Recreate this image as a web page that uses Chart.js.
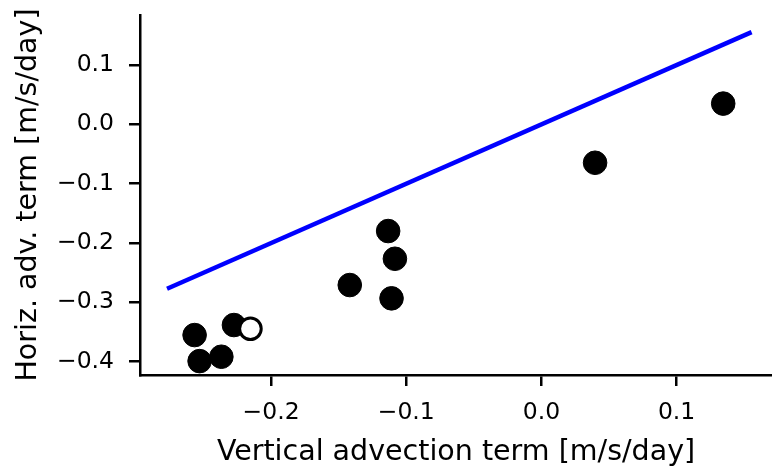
<!DOCTYPE html>
<html><head><meta charset="utf-8">
<script src="https://cdn.jsdelivr.net/npm/chart.js@4"></script>
<style>html,body{margin:0;padding:0;background:#fff;overflow:hidden}</style>
</head><body>
<canvas id="c" width="772" height="470"></canvas>
<script>
// Filled (black) points
const filledX = [0.1345, 0.0397, -0.1134, -0.1084, -0.1418, -0.1109, -0.2566, -0.2529, -0.2368, -0.2275];
const filledY = [0.0350, -0.0647, -0.1798, -0.2265, -0.2708, -0.2932, -0.3551, -0.3990, -0.3916, -0.3382];
// Open (white) point
const openX = [-0.2153];
const openY = [-0.3445];
// 1:1 line
const lineX = [-0.277, 0.1555];
const lineY = [-0.277, 0.1555];
// Axes
const xTicks = [-0.2, -0.1, 0.0, 0.1];
const yTicks = [-0.4, -0.3, -0.2, -0.1, 0.0, 0.1];
const xLimits = [-0.297, 0.1706];
const yLimits = [-0.4224, 0.1843];
const xTitle = 'Vertical advection term [m/s/day]';
const yTitle = 'Horiz. adv. term [m/s/day]';

const zip = (xs, ys) => xs.map((x, i) => ({x: x, y: ys[i]}));
const fmt = v => (v < -1e-9 ? '\u2212' : '') + Math.abs(v).toFixed(1);
const FONT = 'DejaVu Sans';
const noPad = s => { s.paddingTop = 0; s.paddingBottom = 0; s.paddingLeft = 0; s.paddingRight = 0; };

new Chart(document.getElementById('c'), {
  type: 'scatter',
  data: {
    datasets: [
      {data: zip(openX, openY), pointRadius: 10.8, pointBorderWidth: 3,
       backgroundColor: '#ffffff', borderColor: '#000000', order: 0},
      {data: zip(filledX, filledY), pointRadius: 11.8, pointBorderWidth: 1,
       backgroundColor: '#000000', borderColor: '#000000', order: 1},
      {type: 'line', data: zip(lineX, lineY), borderColor: '#0000ff', borderWidth: 4.5,
       pointRadius: 0, showLine: true, fill: false, borderCapStyle: 'butt', order: 2}
    ]
  },
  options: {
    responsive: false, animation: false, devicePixelRatio: 1, events: [],
    layout: {autoPadding: false, padding: {top: 15, right: 0, bottom: 0, left: 0}},
    plugins: {legend: {display: false}, tooltip: {enabled: false}},
    scales: {
      x: {
        type: 'linear', position: 'bottom', min: xLimits[0], max: xLimits[1],
        afterBuildTicks: s => { s.ticks = xTicks.map(v => ({value: v})); },
        afterFit: s => { s.height = 95; noPad(s); },
        ticks: {callback: fmt, color: '#000', font: {family: FONT, size: 23.5}, padding: 13, maxRotation: 0},
        grid: {drawOnChartArea: false, drawTicks: true, tickLength: 11, lineWidth: 2.5, color: '#000'},
        border: {display: true, color: '#000', width: 2.5},
        title: {display: true, text: xTitle, color: '#000', font: {family: FONT, size: 28.5}, padding: {top: 0, bottom: 0}}
      },
      y: {
        type: 'linear', position: 'left', min: yLimits[0], max: yLimits[1],
        afterBuildTicks: s => { s.ticks = yTicks.map(v => ({value: v})); },
        afterFit: s => { s.width = 140; noPad(s); },
        ticks: {callback: fmt, color: '#000', font: {family: FONT, size: 23.5}, padding: 15},
        grid: {drawOnChartArea: false, drawTicks: true, tickLength: 11, lineWidth: 2.5, color: '#000'},
        border: {display: true, color: '#000', width: 2.5},
        title: {display: true, text: yTitle, color: '#000', font: {family: FONT, size: 28.5}, padding: {top: 11, bottom: 0}}
      }
    }
  }
});
</script>
</body></html>
